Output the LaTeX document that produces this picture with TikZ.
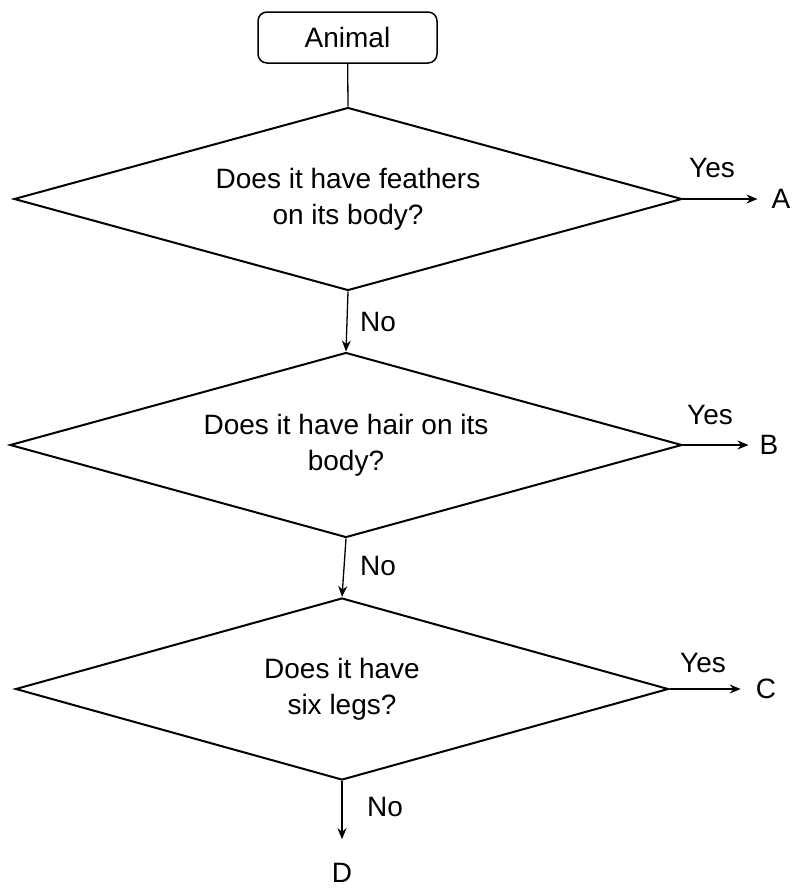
\documentclass[tikz,border=0pt]{standalone}
\usepackage{fontspec}
\setmainfont{Liberation Sans}
\usetikzlibrary{shapes.geometric,arrows.meta}
\begin{document}
\begin{tikzpicture}[x=1pt,y=-1pt,
  every node/.style={font=\fontsize{28}{36}\selectfont},
  startbox/.style={draw, line width=1.5pt, rounded corners=9pt, minimum width=179pt, minimum height=51pt, inner sep=0pt},
  decision/.style={draw, diamond, line width=2pt, inner sep=0pt, aspect=3.6, align=center},
  lbl/.style={inner sep=0pt},
  conn/.style={line width=1.3pt},
  arr/.style={conn, -{Stealth[length=11pt,width=9pt]}}
]
\useasboundingbox (0,0) rectangle (794,889);

\node[startbox] (animal) at (347.5,37.5) {Animal};
\node[decision, minimum width=668pt, minimum height=183pt] (d1) at (348,199) {Does it have feathers\\on its body?};
\node[decision, minimum width=672pt, minimum height=185pt] (d2) at (346,445) {Does it have hair on its\\body?};
\node[decision, minimum width=653pt, minimum height=182pt] (d3) at (342,689) {Does it have\\six legs?};

\node[lbl] (yes1) at (712,168) {Yes};
\node[lbl] (A) at (781,199) {A};
\node[lbl] (yes2) at (710,415) {Yes};
\node[lbl] (B) at (769,445) {B};
\node[lbl] (yes3) at (703,663) {Yes};
\node[lbl] (C) at (766,689) {C};
\node[lbl] (no1) at (378,322) {No};
\node[lbl] (no2) at (378,566) {No};
\node[lbl] (no3) at (385,807) {No};
\node[lbl] (D) at (342,873) {D};

\draw[conn] (animal) -- (d1.north);
\draw[arr] (d1.south) -- (d2.north);
\draw[arr] (d2.south) -- (d3.north);
\draw[arr, shorten >=24pt] (d3.south) -- (D.north);
\draw[arr, shorten >=14pt] (d1.east) -- (A.west);
\draw[arr, shorten >=11pt] (d2.east) -- (B.west);
\draw[arr, shorten >=15pt] (d3.east) -- (C.west);
\end{tikzpicture}
\end{document}
